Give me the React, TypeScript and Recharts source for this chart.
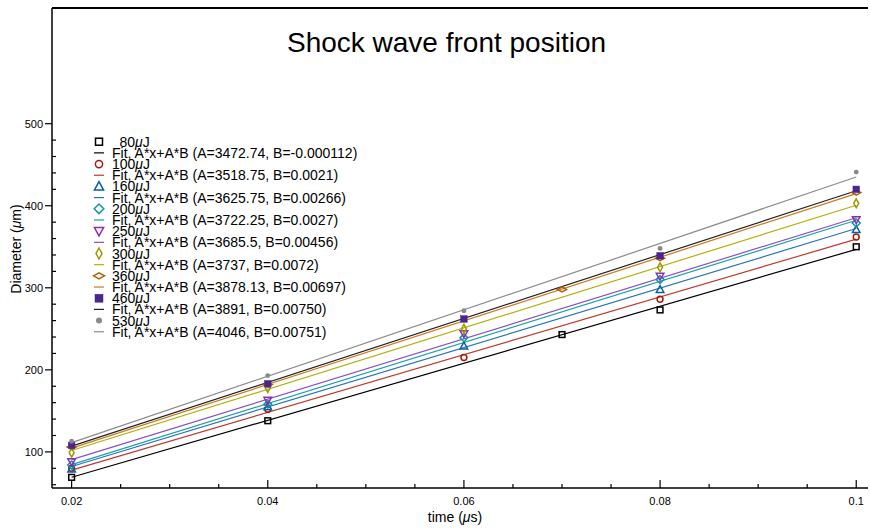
import React from 'react'
import { ComposedChart, Line, Scatter, XAxis, YAxis, ReferenceLine } from 'recharts'

// ---------- data ----------

const energies = ['80', '100', '160', '200', '250', '300', '360', '460', '530']

const x80 = [0.02, 0.04, 0.07, 0.08, 0.1]
const y80 = [69, 138, 243, 273, 350]
const x100 = [0.02, 0.04, 0.06, 0.08, 0.1]
const y100 = [80, 152, 215, 286, 362]
const x160 = [0.02, 0.04, 0.06, 0.08, 0.1]
const y160 = [79, 155, 229, 298, 371]
const x200 = [0.02, 0.04, 0.06, 0.08, 0.1]
const y200 = [84, 158, 239, 310, 379]
const x250 = [0.02, 0.04, 0.06, 0.08, 0.1]
const y250 = [88, 163, 244, 314, 383]
const x300 = [0.02, 0.04, 0.06, 0.08, 0.1]
const y300 = [99, 178, 250, 325, 403]
const x360 = [0.02, 0.04, 0.07, 0.08, 0.1]
const y360 = [106, 182, 298, 336, 416]
const x460 = [0.02, 0.04, 0.06, 0.08, 0.1]
const y460 = [108, 183, 262, 339, 420]
const x530 = [0.02, 0.04, 0.06, 0.08, 0.1]
const y530 = [113, 193, 272, 348, 441]

// fit parameters as printed in the legend
const fitA = ['3472.74', '3518.75', '3625.75', '3722.25', '3685.5', '3737', '3878.13', '3891', '4046']
const fitB = ['-0.000112', '0.0021', '0.00266', '0.0027', '0.00456', '0.0072', '0.00697', '0.00750', '0.00751']

// fit line end points (x = 0.02 and x = 0.1)
const fitX = [0.02, 0.1]
const fitStart = [69.07, 77.76, 82.16, 84.5, 90.52, 101.65, 104.59, 107.0, 111.31]
const fitEnd = [346.88, 359.26, 372.22, 382.28, 385.36, 400.61, 414.84, 418.28, 434.99]

const xTicks = [0.02, 0.025, 0.03, 0.035, 0.04, 0.045, 0.05, 0.055, 0.06, 0.065, 0.07, 0.075, 0.08, 0.085, 0.09, 0.095, 0.1]
const xMajor = [0.02, 0.04, 0.06, 0.08, 0.1]
const xMajorLabels = ['0.02', '0.04', '0.06', '0.08', '0.1']
const yTicks = [60, 80, 100, 120, 140, 160, 180, 200, 220, 240, 260, 280, 300, 320, 340, 360, 380, 400, 420, 440, 460, 480, 500]

// ---------- styles ----------

const FONT = '"Liberation Sans", Arial, Helvetica, sans-serif'

const markerKinds = ['square', 'circle', 'triangle', 'diamond', 'down', 'thin', 'wide', 'fsquare', 'fcircle']
const markerColors = ['#000000', '#a8170c', '#0d5ea8', '#0c9aa0', '#8b2fb0', '#9c9a00', '#b0600c', '#4a2590', '#8a8a8a']
const lineColors = ['#000000', '#c0392b', '#2a74b8', '#1aa3a8', '#8a4fc8', '#b3b010', '#cc7a20', '#222222', '#8c8c8c']

const pointXs = [x80, x100, x160, x200, x250, x300, x360, x460, x530]
const pointYs = [y80, y100, y160, y200, y250, y300, y360, y460, y530]

function Marker({ kind, color, cx, cy, s = 1 }: { kind: string; color: string; cx: number; cy: number; s?: number }) {
  const sw = 1.5
  switch (kind) {
    case 'square':
      return <rect x={cx - 3.5 * s} y={cy - 3.5 * s} width={7 * s} height={7 * s} fill="none" stroke={color} strokeWidth={sw} />
    case 'circle':
      return <circle cx={cx} cy={cy} r={3.6 * s} fill="none" stroke={color} strokeWidth={sw} />
    case 'triangle':
      return <path d={`M${cx},${cy - 4.8 * s}L${cx + 4.6 * s},${cy + 3.6 * s}L${cx - 4.6 * s},${cy + 3.6 * s}Z`} fill="none" stroke={color} strokeWidth={sw} />
    case 'diamond':
      return <path d={`M${cx},${cy - 4.8 * s}L${cx + 4.8 * s},${cy}L${cx},${cy + 4.8 * s}L${cx - 4.8 * s},${cy}Z`} fill="none" stroke={color} strokeWidth={sw} />
    case 'down':
      return <path d={`M${cx},${cy + 4.8 * s}L${cx + 4.6 * s},${cy - 3.6 * s}L${cx - 4.6 * s},${cy - 3.6 * s}Z`} fill="none" stroke={color} strokeWidth={sw} />
    case 'thin':
      return <path d={`M${cx},${cy - 5.5 * s}L${cx + 3 * s},${cy}L${cx},${cy + 5.5 * s}L${cx - 3 * s},${cy}Z`} fill="none" stroke={color} strokeWidth={sw} />
    case 'wide':
      return <path d={`M${cx - 5.5 * s},${cy}L${cx},${cy - 3 * s}L${cx + 5.5 * s},${cy}L${cx},${cy + 3 * s}Z`} fill="none" stroke={color} strokeWidth={sw} />
    case 'fsquare':
      return <rect x={cx - 4 * s} y={cy - 4 * s} width={8 * s} height={8 * s} fill={color} stroke={color} strokeWidth={0.5} />
    default:
      return <circle cx={cx} cy={cy} r={3 * s} fill={color} stroke="none" />
  }
}

const XTick = (props: any) => {
  const { x, y, payload } = props
  const idx = xMajor.findIndex(m => Math.abs(m - payload.value) < 1e-6)
  const major = idx >= 0
  return (
    <g>
      <line x1={x} x2={x} y1={y} y2={y - (major ? 8 : 4)} stroke="#000" strokeWidth={1.2} />
      {major && (
        <text x={x} y={y + 17} textAnchor="middle" fontSize={11} fontFamily={FONT} fill="#000">
          {xMajorLabels[idx]}
        </text>
      )}
    </g>
  )
}

const YTick = (props: any) => {
  const { x, y, payload } = props
  const major = payload.value % 100 === 0
  return (
    <g>
      {major ? (
        <line x1={x - 7} x2={x} y1={y} y2={y} stroke="#000" strokeWidth={1.2} />
      ) : (
        <line x1={x} x2={x + 4} y1={y} y2={y} stroke="#000" strokeWidth={1.2} />
      )}
      {major && (
        <text x={x - 9} y={y + 4} textAnchor="end" fontSize={11} fontFamily={FONT} fill="#000">
          {payload.value}
        </text>
      )}
    </g>
  )
}

function LegendBox() {
  const rowH = 11.18
  const top = 141.7
  return (
    <svg width={870} height={529} style={{ position: 'absolute', left: 0, top: 0, pointerEvents: 'none' }}>
      {energies.map((e, i) => {
        const cyP = top + 2 * i * rowH
        const cyF = top + (2 * i + 1) * rowH
        return (
          <g key={e}>
            <Marker kind={markerKinds[i]} color={markerColors[i]} cx={99} cy={cyP} />
            <text x={e.length < 3 ? 119.5 : 112} y={cyP + 5} fontSize={14} fontFamily={FONT} fill="#000">
              {e}
              <tspan fontStyle="italic">μ</tspan>J
            </text>
            <line x1={94} x2={104} y1={cyF} y2={cyF} stroke={lineColors[i]} strokeWidth={1.2} />
            <text x={112} y={cyF + 5} fontSize={14} fontFamily={FONT} fill="#000">
              {`Fit, A*x+A*B (A=${fitA[i]}, B=${fitB[i]})`}
            </text>
          </g>
        )
      })}
    </svg>
  )
}

export default function App() {
  const pointData = energies.map((_, i) => pointXs[i].map((x, j) => ({ x, y: pointYs[i][j] })))
  const fitData = energies.map((_, i) => [
    { x: fitX[0], y: fitStart[i] },
    { x: fitX[1], y: fitEnd[i] }
  ])

  return (
    <div style={{ position: 'absolute', left: 0, top: 0, width: 870, height: 529, background: '#fff', fontFamily: FONT }}>
      <ComposedChart width={870} height={529} margin={{ top: 8, right: 2, bottom: 0, left: 0 }}>
        <XAxis
          dataKey="x"
          type="number"
          domain={[0.018, 0.1012]}
          allowDataOverflow
          ticks={xTicks}
          interval={0}
          height={41}
          tickSize={0}
          tickMargin={0}
          tickLine={false}
          tick={<XTick />}
          axisLine={{ stroke: '#000', strokeWidth: 1.5 }}
        />
        <YAxis
          dataKey="y"
          type="number"
          domain={[56, 641]}
          allowDataOverflow
          ticks={yTicks}
          interval={0}
          width={52}
          tickSize={0}
          tickMargin={0}
          tickLine={false}
          tick={<YTick />}
          axisLine={{ stroke: '#000', strokeWidth: 1.5 }}
        />
        <ReferenceLine y={641} stroke="#000" strokeWidth={2} />
        {energies.map((e, i) => (
          <Line
            key={`fit-${e}`}
            data={fitData[i]}
            dataKey="y"
            type="linear"
            stroke={lineColors[i]}
            strokeWidth={1.2}
            dot={false}
            activeDot={false}
            isAnimationActive={false}
          />
        ))}
        {energies.map((e, i) => (
          <Scatter
            key={`pts-${e}`}
            data={pointData[i]}
            dataKey="y"
            isAnimationActive={false}
            shape={(p: any) => <Marker kind={markerKinds[i]} color={markerColors[i]} cx={p.cx} cy={p.cy} s={0.82} />}
          />
        ))}
      </ComposedChart>

      <div
        style={{
          position: 'absolute',
          left: 0,
          width: 893,
          top: 27,
          textAlign: 'center',
          fontSize: 28,
          color: '#000',
          lineHeight: '32px'
        }}
      >
        Shock wave front position
      </div>

      <LegendBox />

      <svg width={870} height={529} style={{ position: 'absolute', left: 0, top: 0, pointerEvents: 'none' }}>
        <text x={455} y={522} textAnchor="middle" fontSize={14} fontFamily={FONT} fill="#000">
          time (<tspan fontStyle="italic">μ</tspan>s)
        </text>
        <text
          x={0}
          y={0}
          transform="translate(21,249) rotate(-90)"
          textAnchor="middle"
          fontSize={14}
          fontFamily={FONT}
          fill="#000"
        >
          Diameter (<tspan fontStyle="italic">μ</tspan>m)
        </text>
      </svg>
    </div>
  )
}
